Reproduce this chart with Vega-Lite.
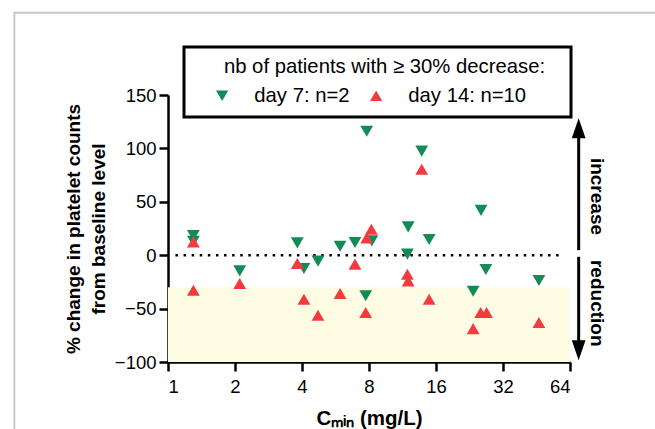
{
  "$schema": "https://vega.github.io/schema/vega-lite/v6.json",
  "width": 402,
  "height": 267,
  "autosize": "none",
  "padding": {"left": 168, "top": 95, "right": 85, "bottom": 67},
  "background": "white",
  "config": {
    "view": {"stroke": null},
    "font": "Liberation Sans",
    "legend": {"strokeWidth": 3},
    "axis": {
      "grid": false,
      "domainColor": "black",
      "domainWidth": 2.5,
      "tickColor": "black",
      "tickWidth": 2.5,
      "tickSize": 9,
      "labelColor": "black",
      "labelFont": "Liberation Sans",
      "labelFontSize": 18.5,
      "labelPadding": 3,
      "titleColor": "black",
      "titleFont": "Liberation Sans",
      "titleFontSize": 19,
      "titleFontWeight": "bold"
    }
  },
  "datasets": {
    "points": [
      {"cmin": 1.3, "change": 18.5, "day": "day 7: n=2"},
      {"cmin": 1.3, "change": 13, "day": "day 7: n=2"},
      {"cmin": 2.1, "change": -14.7, "day": "day 7: n=2"},
      {"cmin": 3.81, "change": 11.5, "day": "day 7: n=2"},
      {"cmin": 4.08, "change": -12.5, "day": "day 7: n=2"},
      {"cmin": 4.72, "change": -5.6, "day": "day 7: n=2"},
      {"cmin": 5.93, "change": 8.4, "day": "day 7: n=2"},
      {"cmin": 6.92, "change": 11.9, "day": "day 7: n=2"},
      {"cmin": 7.81, "change": 116, "day": "day 7: n=2"},
      {"cmin": 7.73, "change": -38, "day": "day 7: n=2"},
      {"cmin": 8.24, "change": 13.4, "day": "day 7: n=2"},
      {"cmin": 13.8, "change": 97.4, "day": "day 7: n=2"},
      {"cmin": 12.0, "change": 26.5, "day": "day 7: n=2"},
      {"cmin": 14.9, "change": 14.7, "day": "day 7: n=2"},
      {"cmin": 11.9, "change": 1, "day": "day 7: n=2"},
      {"cmin": 25.5, "change": 42, "day": "day 7: n=2"},
      {"cmin": 26.8, "change": -13.4, "day": "day 7: n=2"},
      {"cmin": 23.5, "change": -33.7, "day": "day 7: n=2"},
      {"cmin": 46.4, "change": -23.7, "day": "day 7: n=2"},
      {"cmin": 1.3, "change": 12.5, "day": "day 14: n=10"},
      {"cmin": 1.3, "change": -32.8, "day": "day 14: n=10"},
      {"cmin": 2.1, "change": -26.5, "day": "day 14: n=10"},
      {"cmin": 3.81, "change": -7.8, "day": "day 14: n=10"},
      {"cmin": 4.08, "change": -41.2, "day": "day 14: n=10"},
      {"cmin": 4.72, "change": -56.2, "day": "day 14: n=10"},
      {"cmin": 5.93, "change": -35.9, "day": "day 14: n=10"},
      {"cmin": 6.92, "change": -8.4, "day": "day 14: n=10"},
      {"cmin": 7.73, "change": -53.7, "day": "day 14: n=10"},
      {"cmin": 7.81, "change": 16.2, "day": "day 14: n=10"},
      {"cmin": 8.2, "change": 24.3, "day": "day 14: n=10"},
      {"cmin": 13.8, "change": 80.5, "day": "day 14: n=10"},
      {"cmin": 11.9, "change": -17.8, "day": "day 14: n=10"},
      {"cmin": 12.0, "change": -24, "day": "day 14: n=10"},
      {"cmin": 14.9, "change": -41.2, "day": "day 14: n=10"},
      {"cmin": 23.5, "change": -68.7, "day": "day 14: n=10"},
      {"cmin": 25.4, "change": -53.7, "day": "day 14: n=10"},
      {"cmin": 27.0, "change": -53.7, "day": "day 14: n=10"},
      {"cmin": 46.4, "change": -63, "day": "day 14: n=10"}
    ]
  },
  "layer": [
    {
      "data": {"values": [{"x1": 0.204, "x2": 100000, "y1": 227, "y2": -5000}]},
      "mark": {"type": "rect", "filled": false, "stroke": "#c8c8c8", "strokeWidth": 2},
      "encoding": {
        "x": {"field": "x1", "type": "quantitative", "scale": {"type": "log", "base": 2, "domain": [1, 64], "nice": false}},
        "x2": {"field": "x2"},
        "y": {"field": "y1", "type": "quantitative", "scale": {"domain": [-100, 150], "nice": false}},
        "y2": {"field": "y2"}
      }
    },
    {
      "data": {"values": [{"x1": 1, "x2": 64, "y1": -100, "y2": -30}]},
      "mark": {"type": "rect", "fill": "#FEFDE3"},
      "encoding": {
        "x": {"field": "x1", "type": "quantitative"},
        "x2": {"field": "x2"},
        "y": {"field": "y1", "type": "quantitative"},
        "y2": {"field": "y2"}
      }
    },
    {
      "data": {"values": [{"x1": 1.08, "x2": 60, "y": 0}]},
      "mark": {"type": "rule", "color": "black", "strokeWidth": 2.5, "strokeDash": [2.5, 5.6]},
      "encoding": {
        "x": {"field": "x1", "type": "quantitative"},
        "x2": {"field": "x2"},
        "y": {"field": "y", "type": "quantitative"}
      }
    },
    {
      "data": {"name": "points"},
      "mark": {"type": "point", "filled": true, "opacity": 1, "size": 165},
      "encoding": {
        "x": {
          "field": "cmin", "type": "quantitative",
          "axis": {"values": [1, 2, 4, 8, 16, 32, 64], "title": "Cₘᵢₙ (mg/L)", "titleFontSize": 20.5, "titlePadding": 13, "labelPadding": 6, "format": "d"}
        },
        "y": {
          "field": "change", "type": "quantitative",
          "axis": {"values": [-100, -50, 0, 50, 100, 150], "title": ["% change in platelet counts", "from baseline level"], "titlePadding": 6, "titleLineHeight": 25}
        },
        "color": {
          "field": "day", "type": "nominal",
          "scale": {"domain": ["day 7: n=2", "day 14: n=10"], "range": ["#138B57", "#F23B3F"]},
          "legend": {
            "title": "\u2800\u2800nb of patients with ≥ 30% decrease:\u2800",
            "orient": "none",
            "legendX": 16,
            "legendY": -48,
            "direction": "horizontal",
            "titleAnchor": "middle",
            "titleFontSize": 20.3,
            "titleFontWeight": "normal",
            "titleColor": "black",
            "titlePadding": 8,
            "titleLimit": 600,
            "labelLimit": 300,
            "labelFontSize": 20.3,
            "labelColor": "black",
            "labelExpr": "datum.label == 'day 14: n=10' ? datum.label + '\u2800' : datum.label",
            "symbolSize": 150,
            "symbolOffset": 0,
            "labelOffset": 22,
            "columnPadding": 16,
            "padding": 10,
            "strokeColor": "black",
            "fillColor": "white"
          }
        },
        "shape": {
          "field": "day", "type": "nominal",
          "scale": {"domain": ["day 7: n=2", "day 14: n=10"], "range": ["triangle-down", "triangle-up"]}
        }
      }
    },
    {
      "data": {"values": [{"x": 70, "y1": 115, "y2": 4.7}, {"x": 70, "y1": -1.5, "y2": -86}]},
      "mark": {"type": "rule", "color": "black", "strokeWidth": 3},
      "encoding": {
        "x": {"field": "x", "type": "quantitative"},
        "y": {"field": "y1", "type": "quantitative"},
        "y2": {"field": "y2"}
      }
    },
    {
      "data": {"values": [{"x": 70, "y": 116.6}]},
      "mark": {"type": "point", "filled": true, "opacity": 1, "size": 625, "color": "black", "shape": "M0,-1L0.55,0.6L-0.55,0.6Z"},
      "encoding": {
        "x": {"field": "x", "type": "quantitative"},
        "y": {"field": "y", "type": "quantitative"}
      }
    },
    {
      "data": {"values": [{"x": 70, "y": -86.6}]},
      "mark": {"type": "point", "filled": true, "opacity": 1, "size": 625, "color": "black", "shape": "M0,1L0.55,-0.6L-0.55,-0.6Z"},
      "encoding": {
        "x": {"field": "x", "type": "quantitative"},
        "y": {"field": "y", "type": "quantitative"}
      }
    },
    {
      "data": {"values": [{"x": 84.6, "y": 55, "label": "increase"}, {"x": 84.6, "y": -45, "label": "reduction"}]},
      "mark": {"type": "text", "angle": 90, "fontSize": 19, "fontWeight": "bold", "color": "black", "align": "center", "baseline": "middle", "font": "Liberation Sans"},
      "encoding": {
        "x": {"field": "x", "type": "quantitative"},
        "y": {"field": "y", "type": "quantitative"},
        "text": {"field": "label"}
      }
    }
  ]
}
